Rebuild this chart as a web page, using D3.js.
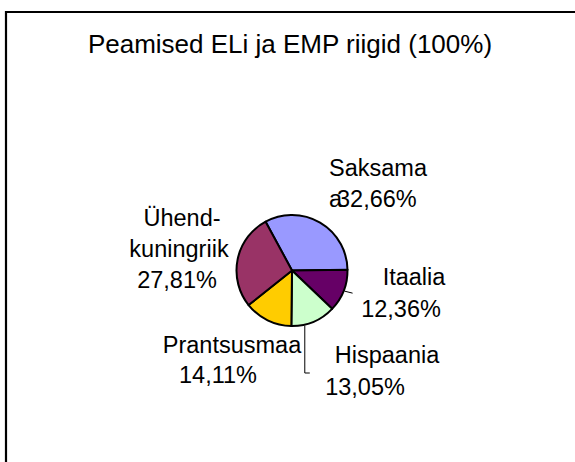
<!DOCTYPE html>
<html>
<head>
<meta charset="utf-8">
<script src="https://cdn.jsdelivr.net/npm/d3@7"></script>
<style>
  html, body { margin: 0; padding: 0; background: #fff; }
  svg { display: block; font-family: "Liberation Sans", Arial, sans-serif; }
</style>
</head>
<body>
<svg id="chart" width="575" height="462"></svg>
<script>
// data
const countries = ["Saksamaa", "Itaalia", "Hispaania", "Prantsusmaa", "Ühend-kuningriik"]
const shares = [32.66, 12.36, 13.05, 14.11, 27.81]
const shareLabels = ["32,66%", "12,36%", "13,05%", "14,11%", "27,81%"]
const sliceColors = ["#9999ff", "#660066", "#ccffcc", "#ffcc00", "#993366"]
const chartTitle = "Peamised ELi ja EMP riigid (100%)"

// label layout (lines as drawn, with their own x,y) - placed by hand like in the original
const labelLines = {
  "Saksamaa": [
    {t: "Saksama", x: 329, y: 176, anchor: "start"},
    {t: "a", x: 329, y: 207, anchor: "start"},
    {t: "%share", x: 337, y: 207, anchor: "start"}
  ],
  "Itaalia": [
    {t: "Itaalia", x: 414, y: 285, anchor: "middle"},
    {t: "%share", x: 401, y: 317, anchor: "middle"}
  ],
  "Hispaania": [
    {t: "Hispaania", x: 387, y: 363, anchor: "middle"},
    {t: "%share", x: 365, y: 395, anchor: "middle"}
  ],
  "Prantsusmaa": [
    {t: "Prantsusmaa", x: 232, y: 353, anchor: "middle"},
    {t: "%share", x: 218, y: 383, anchor: "middle"}
  ],
  "Ühend-kuningriik": [
    {t: "Ühend-", x: 182, y: 226, anchor: "middle"},
    {t: "kuningriik", x: 179, y: 257, anchor: "middle"},
    {t: "%share", x: 177, y: 288, anchor: "middle"}
  ]
}

const svg = d3.select("#chart")
const cx = 292, cy = 270.5, radius = 55.5

// frame (only top and left edges are visible in the picture)
svg.append("path")
  .attr("d", "M6,462V12H575")
  .attr("fill", "none")
  .attr("stroke", "#000")
  .attr("stroke-width", 2.2)

svg.append("text")
  .attr("x", 290)
  .attr("y", 53)
  .attr("text-anchor", "middle")
  .attr("font-size", 26)
  .attr("fill", "#000")
  .text(chartTitle)

const rows = countries.map((c, i) => ({name: c, value: shares[i], label: shareLabels[i], color: sliceColors[i]}))

// first slice starts a bit left of 12 o'clock
const startAngle = -28.4 * Math.PI / 180
const pie = d3.pie()
  .value(d => d.value)
  .sort(null)
  .startAngle(startAngle)
  .endAngle(startAngle + 2 * Math.PI)

const arc = d3.arc().innerRadius(0).outerRadius(radius)

const g = svg.append("g").attr("transform", `translate(${cx},${cy})`)
const arcs = pie(rows)

g.selectAll("path.slice")
  .data(arcs)
  .join("path")
  .attr("class", "slice")
  .attr("d", arc)
  .attr("fill", d => d.data.color)
  .attr("stroke", "#000")
  .attr("stroke-width", 2)
  .attr("stroke-linejoin", "round")

// leader lines for Itaalia and Hispaania
const pointOnRim = (angle, r) => [Math.sin(angle) * r, -Math.cos(angle) * r]
const italy = arcs[1], spain = arcs[2]
const itA = (italy.startAngle + italy.endAngle) / 2
const itP = pointOnRim(itA, radius + 1)
g.append("path")
  .attr("d", `M${itP[0]},${itP[1]}Q${itP[0] + 4},${itP[1] + 1} ${itP[0] + 8},${itP[1] + 2}`)
  .attr("fill", "none")
  .attr("stroke", "#000")
  .attr("stroke-width", 1)
const spA = spain.endAngle - 0.24
const spP = pointOnRim(spA, radius + 1)
g.append("path")
  .attr("d", `M${spP[0]},${spP[1]}V${373 - cy}H${spP[0] + 5}`)
  .attr("fill", "none")
  .attr("stroke", "#000")
  .attr("stroke-width", 1)

// labels
const labels = svg.append("g").attr("font-size", 23.5).attr("fill", "#000")
rows.forEach(r => {
  labels.selectAll(null)
    .data(labelLines[r.name])
    .join("text")
    .attr("x", d => d.x)
    .attr("y", d => d.y)
    .attr("text-anchor", d => d.anchor)
    .text(d => d.t == "%share" ? r.label : d.t)
})
</script>
</body>
</html>
